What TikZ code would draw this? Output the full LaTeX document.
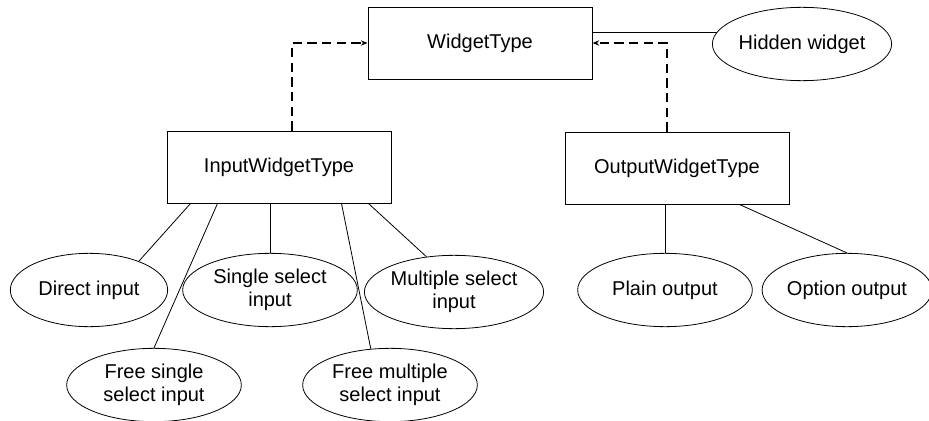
\documentclass[tikz,border=0pt]{standalone}
\usepackage{fontspec}
\setmainfont{Liberation Sans}
\usetikzlibrary{shapes.geometric,arrows.meta,calc}

\begin{document}
\begin{tikzpicture}[x=0.75pt,y=-0.75pt,
  font=\fontsize{15}{17}\selectfont,
  typebox/.style={draw,line width=0.75pt,minimum width=168pt,minimum height=54pt,inner sep=0},
  kindell/.style={draw,ellipse,line width=0.6pt,minimum width=131pt,minimum height=55pt,inner sep=0,align=center},
  link/.style={line width=0.6pt},
  dep/.style={line width=2pt,dash pattern=on 7pt off 4pt,-{Stealth[length=5pt,width=4pt]}}]
\useasboundingbox (0,0) rectangle (929,421);
% type boxes
\node[typebox] (wt) at (480,43) {WidgetType};
\node[typebox] (iwt) at (279,167) {InputWidgetType};
\node[typebox] (owt) at (677,168) {OutputWidgetType};
% widget kinds
\node[kindell] (hid) at (802,44) {Hidden widget};
\node[kindell,minimum width=118pt] (di) at (89,290) {Direct input};
\node[kindell] (ssi) at (270,290) {Single select\\input};
\node[kindell] (msi) at (454,292) {Multiple select\\input};
\node[kindell] (fsi) at (154,385) {Free single\\select input};
\node[kindell] (fmi) at (390,385) {Free multiple\\select input};
\node[kindell] (po) at (665,290) {Plain output};
\node[kindell,minimum width=124pt] (oo) at (847,290) {Option output};
% inheritance
\draw[dep] ($(iwt.north)+(13,0)$) |- (wt.west);
\draw[dep] ($(owt.north)+(-10,0)$) |- (wt.east);
\draw[link] (hid.172) -- (hid.172 -| wt.east);
% input kinds
\draw[link] ($(iwt.south west)+(24,0)$) -- (di.30);
\draw[link] ($(iwt.south west)+(51,0)$) -- (fsi.north);
\draw[link] (ssi.north) -- (ssi.north |- iwt.south);
\draw[link] ($(iwt.south east)+(-50,0)$) -- (fmi.118);
\draw[link] ($(iwt.south east)+(-23,0)$) -- (msi.128);
% output kinds
\draw[link] (po.north) -- (po.north |- owt.south);
\draw[link] ($(owt.south west)+(175,0)$) -- (oo.north);
\end{tikzpicture}
\end{document}
